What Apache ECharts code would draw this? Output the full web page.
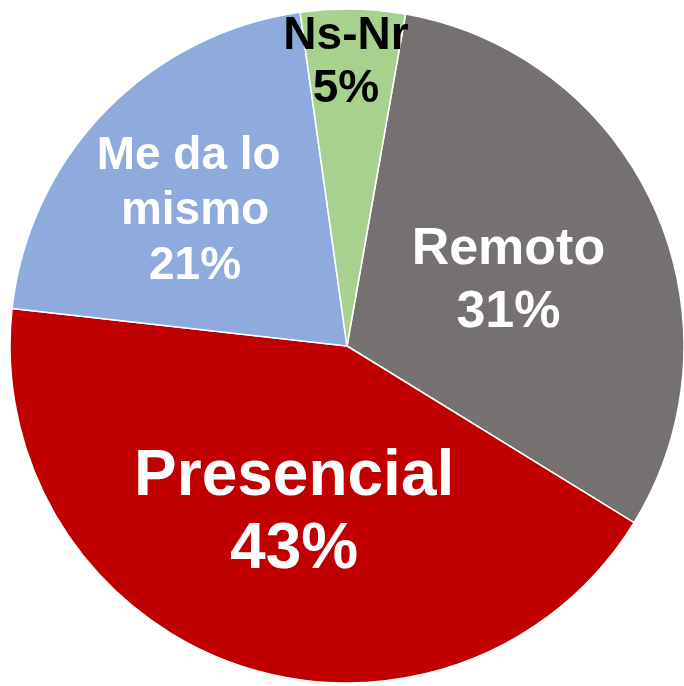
<!DOCTYPE html>
<html>
<head>
<meta charset="utf-8">
<script src="https://cdn.jsdelivr.net/npm/echarts@6/dist/echarts.min.js"></script>
<style>
  html, body { margin: 0; padding: 0; background: #fff; }
  #chart { width: 684px; height: 686px; }
</style>
</head>
<body>
<div id="chart"></div>
<script>
// categories and shares
var categories = ['Remoto', 'Presencial', 'Me da lo mismo', 'Ns-Nr'];
var values = [31, 43, 21, 5];
var colors = ['#767171', '#C00000', '#8FAADC', '#A9D18E'];

// label look per slice
var labelColors = ['#fff', '#fff', '#fff', '#000'];
var labelSizes = [52, 64, 46, 46];
var labelLines = [63, 73, 55, 53];
var labelOffsets = [[5, 5], [3, 6], [-29, -15], [-4, -112]];

var chart = echarts.init(document.getElementById('chart'), null, { renderer: 'canvas' });

var data = categories.map(function (name, i) {
  return {
    name: name,
    value: values[i],
    itemStyle: { color: colors[i] },
    label: {
      color: labelColors[i],
      fontSize: labelSizes[i],
      lineHeight: labelLines[i],
      offset: labelOffsets[i],
      width: i === 2 ? 210 : null,
      overflow: i === 2 ? 'break' : 'none'
    }
  };
});

chart.setOption({
  animation: false,
  backgroundColor: '#fff',
  series: [{
    type: 'pie',
    center: [347, 346],
    radius: [0, 337],
    startAngle: 80,
    clockwise: true,
    avoidLabelOverlap: false,
    itemStyle: { borderColor: '#fff', borderWidth: 1.5 },
    label: {
      show: true,
      position: 'inside',
      formatter: '{b}\n{d}%',
      fontFamily: 'Liberation Sans, Arial, sans-serif',
      fontWeight: 'bold',
      align: 'center'
    },
    labelLine: { show: false },
    emphasis: { disabled: true },
    data: data
  }]
});
</script>
</body>
</html>
